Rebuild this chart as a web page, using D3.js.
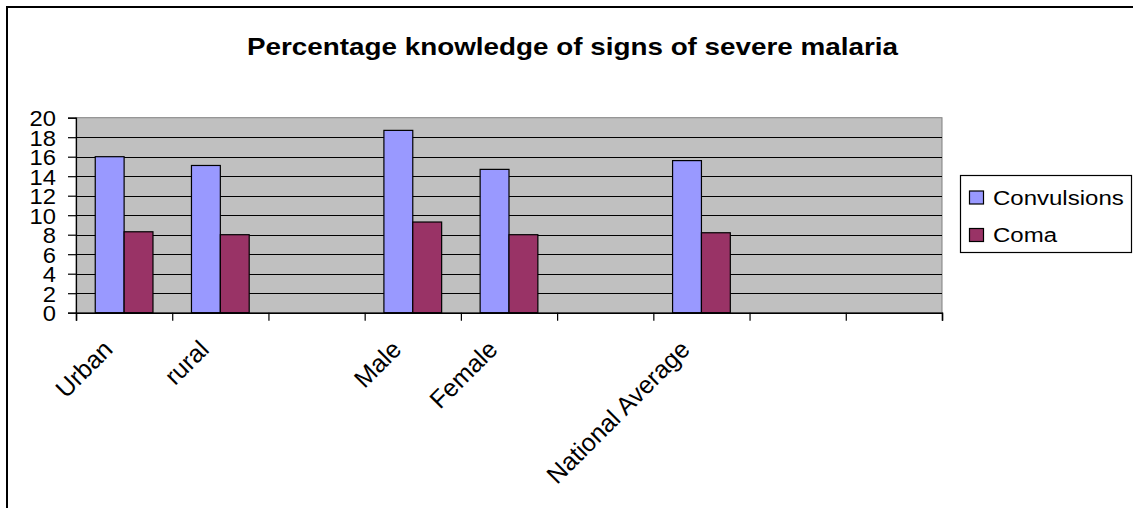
<!DOCTYPE html>
<html>
<head>
<meta charset="utf-8">
<script src="https://cdn.jsdelivr.net/npm/d3@7"></script>
<style>
  html, body { margin: 0; padding: 0; background: #fff; }
  svg { display: block; font-family: "Liberation Sans", Arial, sans-serif; }
</style>
</head>
<body>
<svg id="chart" width="1133" height="508"></svg>
<script>
// Category slots along the x axis (empty strings are unlabelled spacer slots)
const categories = ["Urban", "rural", "", "Male", "Female", "", "National Average", "", ""];
const seriesNames = ["Convulsions", "Coma"];
const convulsions = [16.0, 15.1, null, 18.7, 14.7, null, 15.6, null, null];
const coma = [8.3, 8.0, null, 9.3, 8.0, null, 8.2, null, null];
const yTicks = [0, 2, 4, 6, 8, 10, 12, 14, 16, 18, 20];
const titleText = "Percentage knowledge of signs of severe malaria";

const colors = { Convulsions: "#9999FF", Coma: "#993366" };
const seriesValues = { Convulsions: convulsions, Coma: coma };

(function draw() {
  const svg = d3.select("#chart");

  // Outer chart frame
  svg.append("rect")
    .attr("x", 7).attr("y", 7)
    .attr("width", 1140).attr("height", 520)
    .attr("fill", "#fff").attr("stroke", "#000").attr("stroke-width", 2);

  // Plot area geometry
  const plotLeft = 76, plotRight = 942, plotTop = 117.7, plotBottom = 312.7;

  const idx = categories.map((_, i) => i);
  const x = d3.scaleBand().domain(idx).range([plotLeft, plotRight]).paddingInner(0.4).paddingOuter(0.2);
  const xs = d3.scaleBand().domain(seriesNames).range([0, x.bandwidth()]);
  const slot = d3.scaleLinear().domain([0, categories.length]).range([plotLeft, plotRight]);
  const y = d3.scaleLinear().domain([0, 20]).range([plotBottom, plotTop]);

  // Plot background
  svg.append("rect")
    .attr("x", plotLeft).attr("y", plotTop)
    .attr("width", plotRight - plotLeft).attr("height", plotBottom - plotTop)
    .attr("fill", "#C0C0C0").attr("stroke", "#808080").attr("stroke-width", 1);

  // Horizontal gridlines
  svg.append("g")
    .selectAll("line")
    .data(yTicks.filter(v => v > 0 && v < 20))
    .join("line")
    .attr("x1", plotLeft).attr("x2", plotRight)
    .attr("y1", d => Math.round(y(d)) + 0.5).attr("y2", d => Math.round(y(d)) + 0.5)
    .attr("stroke", "#000").attr("stroke-width", 1);

  // Bars
  const barData = [];
  idx.forEach(i => seriesNames.forEach(s => {
    const v = seriesValues[s][i];
    if (v != null) barData.push({ i, s, v });
  }));
  svg.append("g")
    .selectAll("rect")
    .data(barData)
    .join("rect")
    .attr("x", d => x(d.i) + xs(d.s))
    .attr("width", xs.bandwidth())
    .attr("y", d => y(d.v))
    .attr("height", d => y(0) - y(d.v))
    .attr("fill", d => colors[d.s])
    .attr("stroke", "#000").attr("stroke-width", 1.2);

  // Stretch text horizontally by factor k
  function stretch(sel, k) {
    sel.each(function () {
      const len = this.getComputedTextLength();
      d3.select(this).attr("textLength", len * k).attr("lengthAdjust", "spacingAndGlyphs");
    });
  }

  // Y axis
  const yAxis = svg.append("g")
    .attr("transform", `translate(${plotLeft},0)`)
    .call(d3.axisLeft(y).tickValues(yTicks).tickSize(8).tickPadding(12).tickFormat(d3.format("d")));
  yAxis.select(".domain").attr("stroke", "#000").attr("stroke-width", 1.2);
  yAxis.selectAll(".tick line").attr("stroke", "#000").attr("stroke-width", 1.2);
  yAxis.selectAll(".tick text")
    .attr("font-family", "'Liberation Sans', Arial, sans-serif")
    .attr("font-size", 22).attr("fill", "#000").attr("dy", "0.36em");
  stretch(yAxis.selectAll(".tick text"), 1.08);

  // X axis with tick marks on slot boundaries
  const xAxis = svg.append("g")
    .attr("transform", `translate(0,${plotBottom})`)
    .call(d3.axisBottom(slot).tickValues(d3.range(categories.length + 1)).tickSize(8).tickFormat(""));
  xAxis.select(".domain").attr("stroke", "#000").attr("stroke-width", 1.5);
  xAxis.selectAll(".tick line").attr("stroke", "#000").attr("stroke-width", 1.2);

  // Rotated category labels
  svg.append("g")
    .selectAll("g")
    .data(idx.filter(i => categories[i] !== ""))
    .join("g")
    .attr("transform", i => `translate(${x(i) + x.bandwidth() / 2 - 10},351) rotate(-45)`)
    .append("text")
    .attr("text-anchor", "end")
    .attr("font-size", 25)
    .attr("fill", "#000")
    .text(i => categories[i]);

  // Title
  svg.append("text")
    .attr("x", 572.5).attr("y", 54.5)
    .attr("text-anchor", "middle")
    .attr("font-size", 24).attr("font-weight", "bold").attr("fill", "#000")
    .attr("textLength", 651).attr("lengthAdjust", "spacingAndGlyphs")
    .text(titleText);

  // Legend
  const legend = svg.append("g");
  legend.append("rect")
    .attr("x", 960.5).attr("y", 175.5).attr("width", 171).attr("height", 77)
    .attr("fill", "#fff").attr("stroke", "#000").attr("stroke-width", 1.2);
  const items = legend.selectAll("g.item")
    .data(seriesNames)
    .join("g").attr("class", "item")
    .attr("transform", (d, i) => `translate(0,${i * 37.5})`);
  items.append("rect")
    .attr("x", 969.5).attr("y", 191).attr("width", 14).attr("height", 13)
    .attr("fill", d => colors[d]).attr("stroke", "#000").attr("stroke-width", 1.2);
  const legendText = items.append("text")
    .attr("x", 993).attr("y", 204.5)
    .attr("font-size", 20).attr("fill", "#000")
    .text(d => d);
  stretch(legendText, 1.2);
})();
</script>
</body>
</html>
